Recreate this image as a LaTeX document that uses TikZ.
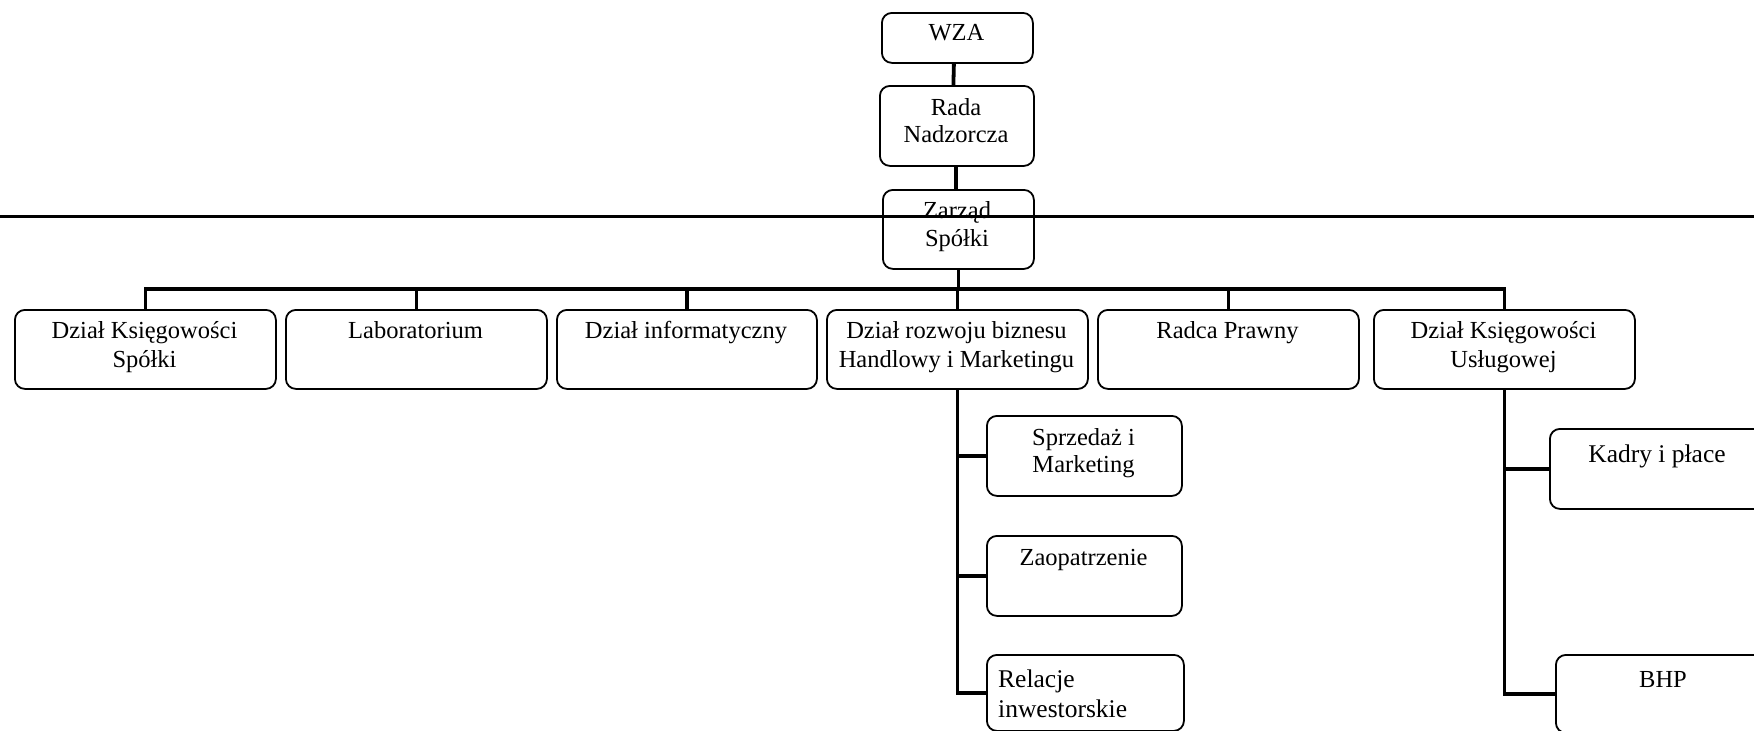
\documentclass[tikz,border=0pt]{standalone}
\usepackage{fontspec}
\setmainfont{Liberation Serif}
\tikzset{
  box/.style={draw, line width=1.8pt, rounded corners=10pt, fill=white, inner sep=0pt, anchor=north west},
  conn/.style={line width=3.8pt, line join=miter},
  lbl/.style={anchor=base, inner sep=0pt, font=\fontsize{24.5}{28}\selectfont},
  lblw/.style={anchor=base west, inner sep=0pt, font=\fontsize{25.5}{30}\selectfont},
  lblb/.style={anchor=base, inner sep=0pt, font=\fontsize{25.5}{30}\selectfont},
}
\begin{document}
\begin{tikzpicture}[x=1pt, y=-1pt]
\useasboundingbox (0,0) rectangle (1754,731);
\fill[white] (0,0) rectangle (1754,731);
\clip (0,0) rectangle (1754,731);
% boxes
\node[box, minimum width=151pt, minimum height=50pt] (wza) at (881,12) {};
\node[box, minimum width=154pt, minimum height=80pt] (rada) at (879,85) {};
\node[box, minimum width=151pt, minimum height=79pt] (zarzad) at (882,189) {};
\node[box, minimum width=261pt, minimum height=79pt] (b1) at (14,309) {};
\node[box, minimum width=261pt, minimum height=79pt] (b2) at (285,309) {};
\node[box, minimum width=260pt, minimum height=79pt] (b3) at (556,309) {};
\node[box, minimum width=261pt, minimum height=79pt] (b4) at (826,309) {};
\node[box, minimum width=261pt, minimum height=79pt] (b5) at (1097,309) {};
\node[box, minimum width=261pt, minimum height=79pt] (b6) at (1373,309) {};
\node[box, minimum width=195pt, minimum height=80pt] (s1) at (986,415) {};
\node[box, minimum width=195pt, minimum height=80pt] (s2) at (986,535) {};
\node[box, minimum width=197pt, minimum height=76pt] (s3) at (986,654) {};
\node[box, minimum width=240pt, minimum height=80pt] (k1) at (1549,428) {};
\node[box, minimum width=240pt, minimum height=78pt] (k2) at (1555,654) {};
% texts
\node[lbl] (twza) at (956.5,40) {WZA};
\node[lbl] (trada1) at (956,115) {Rada};
\node[lbl] (trada2) at (956,142) {Nadzorcza};
\node[lbl] (tz1) at (957,218) {Zarząd};
\node[lbl] (tz2) at (957,246) {Spółki};
\node[lbl] (t1a) at (144.5,338) {Dział Księgowości};
\node[lbl] (t1b) at (144.5,367) {Spółki};
\node[lbl] (t2a) at (415.5,338) {Laboratorium};
\node[lbl] (t3a) at (686,338) {Dział informatyczny};
\node[lbl] (t4a) at (956.5,338) {Dział rozwoju biznesu};
\node[lbl] (t4b) at (956.5,367) {Handlowy i Marketingu};
\node[lbl] (t5a) at (1227.5,338) {Radca Prawny};
\node[lbl] (t6a) at (1503.5,338) {Dział Księgowości};
\node[lbl] (t6b) at (1503.5,367) {Usługowej};
\node[lbl] (ts1a) at (1083.5,445) {Sprzedaż i};
\node[lbl] (ts1b) at (1083.5,472) {Marketing};
\node[lbl] (ts2a) at (1083.5,565) {Zaopatrzenie};
\node[lblw] (ts3a) at (998,687) {Relacje};
\node[lblw] (ts3b) at (998,717) {inwestorskie};
\node[lblb] (tk1) at (1657,462) {Kadry i płace};
\node[lbl] (tk2) at (1663,687) {BHP};
% connectors
\coordinate (bus) at (0,289);
\draw[conn] ([xshift=-3.5pt]wza.south) -- ([xshift=-3.5pt]rada.north);
\draw[conn] ([xshift=-1pt]rada.south) -- ([xshift=-1pt]rada.south |- zarzad.north);
\draw[conn] (zarzad.south) -- (zarzad.south |- bus);
\draw[conn] (b1.north) -- (b1.north |- bus) -- (b6.north |- bus) -- (b6.north);
\foreach \b in {b2,b3,b4,b5} { \draw[conn] (\b.north) -- (\b.north |- bus); }
\draw[conn] (b4.south) -- (b4.south |- s3.west) -- (s3.west);
\draw[conn] (b4.south |- s1.west) -- (s1.west);
\draw[conn] (b4.south |- s2.west) -- (s2.west);
\draw[conn] (b6.south) -- (b6.south |- k2.west) -- (k2.west);
\draw[conn] (b6.south |- k1.west) -- (k1.west);
% full-width line
\coordinate (hl) at (0,216);
\coordinate (hr) at (1754,216);
\draw[line width=3pt] (hl) -- (hr);
\end{tikzpicture}
\end{document}
